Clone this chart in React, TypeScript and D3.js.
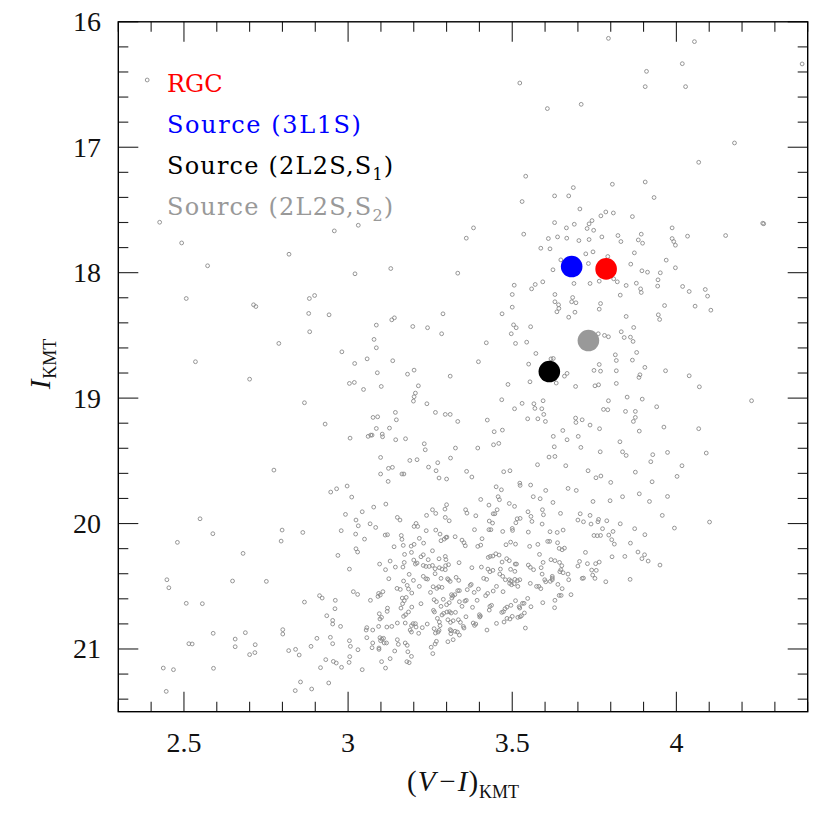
import React from "react";
import * as d3 from "d3";

// ---------- data (V-I, I) ----------
const starsNorthWest: [number, number][] = [
  [2.388,16.464],[2.426,17.598],[2.493,17.763],[2.958,17.667],
];
const starsNorth: [number, number][] = [
  [3.523,16.488],[3.607,16.692],[3.541,17.231],[3.530,17.433],[3.629,17.388],[3.672,17.388],[3.031,17.622],[3.382,17.643],[3.360,17.725],[3.535,17.693],[3.629,17.601],[3.665,17.643],[3.610,17.728],[3.638,17.715],[3.666,17.725],[3.587,17.805],[3.615,17.810],
];
const starsNorthEast: [number, number][] = [
  [3.793,16.132],[4.055,16.158],[4.018,16.334],[4.383,16.336],[3.909,16.395],[3.905,16.517],[4.028,16.517],[3.710,16.658],[4.177,16.966],[4.068,17.120],[3.686,17.322],[3.805,17.295],[3.905,17.277],[3.932,17.401],[3.706,17.492],[3.689,17.614],[3.785,17.516],[3.770,17.547],[3.808,17.524],[3.866,17.553],[3.743,17.585],[3.734,17.611],[3.728,17.648],[3.748,17.662],[3.703,17.744],[3.734,17.736],[3.773,17.715],[3.822,17.704],[3.831,17.752],[3.893,17.693],[3.884,17.739],[3.897,17.765],[3.987,17.643],[3.987,17.728],[3.992,17.752],[3.997,17.781],[4.034,17.709],[4.150,17.704],[4.263,17.606],[4.266,17.610],
];
const starsWest: [number, number][] = [
  [2.820,17.853],[2.572,17.945],[2.507,18.206],[2.712,18.256],[2.719,18.270],[2.882,18.206],[2.898,18.182],[2.880,18.325],[2.942,18.336],[2.883,18.471],[2.789,18.564],[2.535,18.710],[2.700,18.849],[2.867,19.037],[2.930,19.207],[2.774,19.574],
];
const starsCentre: [number, number][] = [
  [3.648,17.898],[3.021,18.009],[3.130,17.967],[3.334,18.004],[3.624,17.977],[3.593,18.073],[3.570,18.094],[3.559,18.129],[3.506,18.100],[3.500,18.174],[3.630,18.174],[3.630,18.232],[3.641,18.256],[3.642,18.285],[3.636,18.312],[3.672,18.355],[3.500,18.275],[3.469,18.328],[3.289,18.328],[3.133,18.376],[3.141,18.360],[3.086,18.418],[3.197,18.429],[3.242,18.439],[3.285,18.487],[3.504,18.416],[3.512,18.439],[3.556,18.431],[3.497,18.487],[3.510,18.564],[3.544,18.554],[3.421,18.559],[3.079,18.532],[3.086,18.599],[2.981,18.631],[3.058,18.687],[3.020,18.724],[3.136,18.702],[3.397,18.710],[3.572,18.644],[3.550,18.729],[3.618,18.687],[3.625,18.684],[3.089,18.798],[3.181,18.809],[3.201,18.777],[3.311,18.825],[3.004,18.883],[3.019,18.875],[3.047,18.931],[3.101,18.907],[3.214,18.902],[3.205,18.960],[3.201,18.989],[3.199,19.024],[3.487,18.891],[3.554,18.870],[3.634,18.880],[3.659,18.825],[3.667,18.803],[3.468,19.013],[3.530,19.042],[3.566,19.045],[3.569,19.082],[3.594,19.021],[3.590,19.085],[3.596,19.130],[3.507,19.085],[3.240,19.045],[3.266,19.114],[3.296,19.130],[3.311,19.130],[3.334,19.186],[3.424,19.175],[3.547,19.165],[3.578,19.165],[3.601,19.186],[3.144,19.114],[3.147,19.173],[3.076,19.154],[3.090,19.149],[3.086,19.242],[3.126,19.239],[3.006,19.319],[3.061,19.305],[3.069,19.295],[3.073,19.295],[3.104,19.287],[3.105,19.308],[3.145,19.332],[3.175,19.324],[3.445,19.268],[3.470,19.255],[3.443,19.372],[3.459,19.361],[3.625,19.305],[3.654,19.258],[3.667,19.332],[3.232,19.364],[3.235,19.412],[3.327,19.398],[3.395,19.398],[3.628,19.388],[3.612,19.470],[3.630,19.465],[3.099,19.473],[3.188,19.497],[3.210,19.491],[3.273,19.515],[3.312,19.478],[3.123,19.560],[3.135,19.552],[3.099,19.605],[3.164,19.605],[3.170,19.605],[3.245,19.550],[3.268,19.579],[3.277,19.637],[3.300,19.645],[3.361,19.584],[3.377,19.629],[3.474,19.587],[3.493,19.579],[3.577,19.531],[3.663,19.539],
];
const starsEast: [number, number][] = [
  [3.724,17.850],[3.746,17.834],[3.791,17.871],[3.872,17.842],[3.969,17.900],[3.997,17.961],[3.861,17.932],[3.895,17.985],[3.912,17.996],[3.951,18.001],[3.944,18.057],[3.943,18.107],[3.732,17.927],[3.688,18.086],[3.737,18.086],[3.765,18.068],[3.809,18.049],[3.820,18.073],[3.847,18.102],[3.878,18.084],[3.891,18.129],[3.893,18.158],[3.829,18.179],[4.019,18.110],[4.039,18.150],[4.088,18.134],[4.095,18.187],[4.057,18.267],[4.105,18.299],[3.964,18.262],[3.945,18.336],[3.949,18.373],[3.684,18.198],[3.681,18.232],[3.694,18.240],[3.691,18.315],[3.769,18.246],[3.765,18.291],[3.847,18.349],[3.870,18.437],[3.832,18.471],[3.841,18.517],[3.860,18.514],[3.868,18.548],[3.762,18.487],[3.781,18.500],[3.793,18.511],[3.879,18.636],[3.814,18.655],[3.817,18.700],[3.866,18.697],[3.765,18.732],[3.749,18.779],[3.769,18.785],[3.817,18.782],[3.904,18.755],[3.889,18.814],[3.886,18.835],[3.967,18.782],[4.039,18.822],[4.070,18.910],[3.693,18.907],[3.752,18.902],[3.763,18.894],[3.817,18.883],[4.229,19.021],[3.850,18.992],[3.896,19.008],[3.793,19.021],[3.940,19.069],[3.778,19.090],[3.791,19.093],[3.845,19.106],[3.875,19.106],[3.875,19.154],[3.869,19.186],[3.693,19.159],[3.694,19.194],[3.713,19.173],[3.737,19.215],[3.766,19.244],[3.887,19.263],[3.962,19.231],[4.068,19.244],[3.701,19.305],[3.828,19.348],[3.709,19.393],[3.768,19.428],[3.836,19.428],[3.847,19.457],[3.928,19.451],[3.973,19.433],[4.091,19.438],[3.922,19.507],[4.017,19.539],[3.731,19.579],[3.755,19.635],[3.770,19.621],[3.875,19.590],[4.002,19.624],
];
const starsSouthWest: [number, number][] = [
  [2.947,19.749],[2.965,19.723],[2.549,19.962],[2.588,20.081],[2.480,20.150],[2.799,20.052],[2.862,20.071],[2.796,20.140],[2.680,20.238],[2.969,20.254],[2.448,20.448],[2.454,20.512],[2.648,20.458],[2.751,20.461],[2.507,20.636],[2.556,20.639],[2.867,20.626],[2.913,20.575],[2.921,20.594],[2.961,20.612],[2.960,20.679],[2.935,20.735],[2.953,20.772],[2.953,20.801],[2.589,20.875],[2.515,20.958],[2.525,20.960],[2.656,20.921],[2.656,20.982],[2.687,20.870],[2.717,20.966],[2.716,21.029],[2.700,21.045],[2.801,20.846],[2.801,20.881],[2.819,21.013],[2.840,21.003],[2.851,21.048],[2.887,20.979],[2.905,20.915],[2.946,20.907],[2.953,20.958],[2.932,21.085],[2.916,21.149],[2.955,21.099],[2.964,21.112],[2.437,21.152],[2.468,21.165],[2.590,21.154],[2.446,21.338],[2.855,21.263],[2.839,21.332],[2.889,21.319],[2.941,21.271],
];
const starsSouthEast: [number, number][] = [
  [3.695,19.736],[3.800,19.672],[3.926,19.667],[3.836,19.786],[3.887,19.763],[3.973,19.784],[3.746,19.824],[3.798,19.818],[3.918,19.824],[3.957,19.935],[4.101,19.988],[3.707,19.922],[3.737,19.935],[3.700,19.972],[3.717,19.986],[3.740,20.004],[3.763,19.967],[3.761,19.986],[3.788,19.978],[3.775,20.041],[3.829,20.002],[3.807,20.063],[3.873,20.041],[3.904,20.089],[3.994,20.036],[3.749,20.095],[3.759,20.097],[3.769,20.095],[3.794,20.092],[3.803,20.129],[3.811,20.164],[3.860,20.156],[3.723,20.230],[3.804,20.265],[3.843,20.262],[3.883,20.227],[3.903,20.249],[3.895,20.280],[3.914,20.299],[3.950,20.331],[3.705,20.302],[3.700,20.339],[3.729,20.320],[3.754,20.320],[3.765,20.307],[3.742,20.371],[3.756,20.373],[3.745,20.411],[3.752,20.437],[3.713,20.437],[3.717,20.435],[3.785,20.464],[3.859,20.445],[3.679,20.567],
];
const starsSouthUpper: [number, number][] = [
  [2.997,19.701],[3.122,19.664],[3.011,19.789],[3.451,19.707],[3.467,19.731],[3.523,19.678],[3.524,19.696],[3.556,19.693],[3.602,19.736],[3.670,19.720],[3.457,19.786],[3.461,19.810],[3.564,19.786],[3.585,19.802],[3.624,19.832],[3.491,19.840],[3.507,19.863],[3.429,19.853],[3.404,19.808],[3.300,19.850],[3.295,19.885],[3.257,19.890],[3.267,19.919],[3.239,19.935],[3.358,19.890],[3.362,19.917],[3.389,19.938],[3.115,19.845],[3.078,19.869],[3.043,19.906],[2.992,19.927],
  [3.454,19.890],[3.442,19.922],[3.447,19.922],[3.430,19.980],[3.440,19.996],[3.592,19.890],[3.595,19.930],[3.548,19.906],[3.557,19.943],[3.560,19.983],[3.591,20.004],[3.647,19.919],[3.524,19.959],[3.515,19.962],[3.511,19.994],[3.150,19.951],[3.158,19.972],[3.024,19.972],[3.296,19.951],[3.308,19.978],[3.031,20.018],[3.067,20.002],[3.084,20.031],[2.979,20.057],[3.207,19.999],[3.201,20.023],[3.212,20.023],[3.238,20.057],[3.267,20.052],[3.280,20.084],[3.385,20.049],[3.429,20.049],[3.435,20.049],[3.471,20.063],[3.500,20.039],[3.501,20.055],[3.549,20.068],[3.615,20.065],[3.637,20.071],[3.655,20.052],[3.113,20.092],[3.120,20.089],[3.023,20.084],[3.050,20.124],[3.162,20.095],[3.164,20.126],[3.217,20.118],[3.230,20.156],[3.283,20.137],[3.293,20.124],[3.298,20.111],[3.301,20.108],[3.326,20.105],[3.347,20.132],[3.353,20.153],[3.357,20.177],[3.408,20.121],[3.395,20.182],[3.404,20.172],[3.481,20.169],[3.495,20.148],[3.510,20.164],[3.553,20.182],[3.578,20.166],[3.608,20.142],[3.614,20.142],[3.638,20.153],[3.643,20.198],[3.652,20.209],[3.659,20.196],[3.140,20.185],[3.168,20.174],[3.192,20.180],[3.201,20.166],[3.024,20.201],[3.029,20.227],[3.257,20.217],
];
const starsSouthMiddle: [number, number][] = [
  [3.172,20.246],[3.193,20.230],[3.222,20.265],[3.229,20.249],[3.244,20.288],[3.277,20.281],[3.296,20.262],[3.298,20.288],[3.200,20.291],[3.205,20.323],[3.210,20.315],[3.128,20.299],[3.096,20.323],[3.171,20.310],[3.338,20.312],[3.427,20.270],[3.433,20.262],[3.441,20.259],[3.450,20.241],[3.460,20.251],[3.469,20.307],[3.483,20.280],[3.491,20.296],[3.509,20.323],[3.513,20.323],[3.549,20.331],[3.555,20.349],[3.565,20.368],[3.583,20.246],[3.594,20.310],[3.618,20.288],[3.630,20.296],[3.644,20.310],[3.651,20.336],[3.648,20.368],[3.229,20.334],[3.237,20.342],[3.247,20.342],[3.257,20.334],[3.265,20.360],[3.278,20.352],[3.286,20.363],[3.297,20.336],[3.306,20.328],[3.296,20.368],[3.144,20.347],[3.167,20.347],[3.114,20.368],[3.004,20.363],[3.377,20.352],[3.406,20.347],[3.426,20.363],[3.432,20.384],[3.441,20.373],[3.464,20.363],[3.495,20.365],[3.508,20.381],[3.588,20.352],[3.591,20.403],[3.622,20.421],[3.622,20.435],[3.645,20.384],[3.655,20.392],[3.670,20.403],[3.186,20.405],[3.229,20.421],[3.242,20.443],[3.237,20.440],[3.199,20.453],[3.169,20.458],[3.124,20.440],[3.265,20.400],[3.283,20.437],[3.303,20.440],[3.306,20.448],[3.311,20.461],[3.329,20.429],[3.337,20.453],[3.413,20.437],[3.422,20.445],[3.462,20.403],[3.471,20.421],[3.479,20.448],[3.491,20.448],[3.496,20.458],[3.508,20.445],[3.516,20.456],[3.523,20.448],[3.555,20.477],[3.574,20.501],[3.581,20.501],[3.587,20.519],[3.599,20.448],[3.602,20.464],[3.616,20.461],[3.622,20.448],[3.639,20.485],[3.652,20.519],[3.649,20.573],[3.643,20.573],[3.672,20.448],
  [3.180,20.493],[3.184,20.522],[3.149,20.517],[3.159,20.525],[3.194,20.554],[3.217,20.501],[3.259,20.504],[3.270,20.517],[3.276,20.504],[3.286,20.509],[3.251,20.549],[3.315,20.567],[3.319,20.578],[3.325,20.567],[3.334,20.535],[3.339,20.535],[3.363,20.527],[3.372,20.493],[3.375,20.485],[3.384,20.549],[3.397,20.522],[3.419,20.575],[3.425,20.557],[3.442,20.538],[3.452,20.501],[3.472,20.543],[3.492,20.477],[3.498,20.488],[3.506,20.480],[3.517,20.501],[3.547,20.597],[3.557,20.663],[3.593,20.631],[3.630,20.612],[3.629,20.671],[3.093,20.557],[3.098,20.570],[3.091,20.581],[3.106,20.543],[3.016,20.543],[3.029,20.565],[3.068,20.612],[3.165,20.594],[3.177,20.589],[3.171,20.615],[3.166,20.639],[3.161,20.674],[3.194,20.666],[3.184,20.705],[3.222,20.639],[3.120,20.674],[3.119,20.700],[3.095,20.719],[3.102,20.748],[3.097,20.761],[3.262,20.607],[3.269,20.623],[3.283,20.660],[3.290,20.604],[3.300,20.647],[3.308,20.631],[3.316,20.594],[3.339,20.623],[3.347,20.660],[3.356,20.618],[3.360,20.612],[3.379,20.668],[3.393,20.612],[3.432,20.660],[3.437,20.652],[3.430,20.690],[3.473,20.703],[3.478,20.679],[3.484,20.666],[3.496,20.652],[3.510,20.615],[3.521,20.663],[3.523,20.674],[3.531,20.636],[3.536,20.636],[3.468,20.708],[3.260,20.692],[3.263,20.705],[3.286,20.729],[3.291,20.716],[3.301,20.705],[3.309,20.703],[3.314,20.713],[3.327,20.708],[3.400,20.727],[3.401,20.745],[3.403,20.737],
];
const starsSouthLower: [number, number][] = [
  [3.169,20.740],[3.175,20.727],[3.174,20.793],[3.150,20.793],[3.198,20.798],[3.205,20.798],[3.193,20.814],[3.207,20.825],[3.241,20.801],[3.226,20.830],[3.272,20.756],[3.278,20.785],[3.280,20.814],[3.304,20.767],[3.312,20.788],[3.320,20.775],[3.336,20.767],[3.342,20.788],[3.351,20.820],[3.353,20.833],[3.359,20.743],[3.381,20.793],[3.385,20.812],[3.389,20.801],[3.423,20.849],[3.452,20.796],[3.475,20.785],[3.484,20.756],[3.493,20.761],[3.500,20.740],[3.517,20.748],[3.524,20.743],[3.528,20.735],[3.537,20.713],[3.540,20.833],[3.262,20.838],[3.266,20.873],[3.274,20.865],[3.277,20.852],[3.311,20.846],[3.314,20.854],[3.313,20.878],[3.326,20.859],[3.333,20.865],[3.339,20.889],[3.320,20.926],[3.304,20.942],[3.269,20.939],[3.265,20.960],[3.253,20.986],[3.258,21.037],[3.215,20.875],[3.189,20.849],[3.193,20.865],[3.118,20.825],[3.133,20.820],[3.093,20.820],[3.057,20.830],[3.055,20.849],[3.075,20.849],[3.057,20.910],[3.075,20.952],[3.073,20.990],[3.097,20.910],[3.103,20.921],[3.108,20.915],[3.099,20.934],[3.110,20.952],[3.117,20.952],[3.094,20.992],[3.094,21.003],[3.150,20.926],[3.153,20.963],[3.174,20.952],[3.180,20.971],[3.142,21.016],[3.182,21.022],[3.193,21.059],[3.179,21.101],[3.186,21.109],[3.128,21.077],[3.102,21.101],[3.114,21.152],[3.030,21.006],[3.004,20.934],[3.007,20.979],[3.005,21.061],[3.003,21.107],[2.980,21.146],[3.043,21.165],[2.977,20.820],
];

const highlightNames = ["RGC", "Source (3L1S)", "Source (2L2S,S1)", "Source (2L2S,S2)"];
const highlightVI = [3.786, 3.681, 3.613, 3.732];
const highlightI = [17.970, 17.951, 18.788, 18.541];

const xMajorTicks = [2.5, 3, 3.5, 4];
const yMajorTicks = [16, 17, 18, 19, 20, 21];

// ---------- styles ----------
const highlightColors = ["#ff0000", "#0000ff", "#000000", "#999999"];
const W = 830, H = 819;
const L = 118.3, R = 807.7, T = 21.8, B = 711.7;
const numFont = "'Liberation Serif', 'Times New Roman', serif";
const legendFont = "'DejaVu Serif', serif";

export default function App() {
  const x = d3.scaleLinear().domain([2.3, 4.4]).range([L, R]);
  const y = d3.scaleLinear().domain([16, 21.5]).range([T, B]);

  const stars = [
    ...starsNorthWest, ...starsNorth, ...starsNorthEast, ...starsWest,
    ...starsCentre, ...starsEast, ...starsSouthWest, ...starsSouthEast,
    ...starsSouthUpper, ...starsSouthMiddle, ...starsSouthLower,
  ];

  const xMinor = d3.range(23, 45).map((v) => v / 10).filter((v) => !xMajorTicks.some((m) => Math.abs(m - v) < 1e-6));
  const yMinor = d3.range(80, 108).map((v) => v / 5).filter((v) => !yMajorTicks.some((m) => Math.abs(m - v) < 1e-6));

  const tickStroke = "#222";
  const tickW = 1.1;

  const legendY = [92, 133, 174, 215];
  const legendX = 167;

  return (
    <svg width={W} height={H} style={{ position: "absolute", left: 0, top: 0, background: "#fff" }}>
      <rect x={0} y={0} width={W} height={H} fill="#fff" />
      {/* ticks */}
      <g stroke={tickStroke} strokeWidth={tickW}>
        {xMajorTicks.map((v) => (
          <g key={"xM" + v}>
            <line x1={x(v)} x2={x(v)} y1={B} y2={B - 20} />
            <line x1={x(v)} x2={x(v)} y1={T} y2={T + 20} />
          </g>
        ))}
        {xMinor.map((v) => (
          <g key={"xm" + v}>
            <line x1={x(v)} x2={x(v)} y1={B} y2={B - 10} />
            <line x1={x(v)} x2={x(v)} y1={T} y2={T + 10} />
          </g>
        ))}
        {yMajorTicks.map((v) => (
          <g key={"yM" + v}>
            <line x1={L} x2={L + 20} y1={y(v)} y2={y(v)} />
            <line x1={R} x2={R - 20} y1={y(v)} y2={y(v)} />
          </g>
        ))}
        {yMinor.map((v) => (
          <g key={"ym" + v}>
            <line x1={L} x2={L + 10} y1={y(v)} y2={y(v)} />
            <line x1={R} x2={R - 10} y1={y(v)} y2={y(v)} />
          </g>
        ))}
      </g>
      <rect x={L} y={T} width={R - L} height={B - T} fill="none" stroke="#000" strokeWidth={1.4} />

      {/* tick labels */}
      <g fontFamily={numFont} fontSize={28} fill="#111">
        {xMajorTicks.map((v) => (
          <text key={"xl" + v} x={x(v)} y={752} textAnchor="middle">{String(v)}</text>
        ))}
        {yMajorTicks.map((v) => (
          <text key={"yl" + v} x={101} y={y(v) + 9.5} textAnchor="end">{String(v)}</text>
        ))}
      </g>

      {/* axis titles */}
      <text x={463} y={791} textAnchor="middle" fontFamily={numFont} fontSize={29} fill="#111">
        <tspan>(</tspan>
        <tspan fontStyle="italic" dx={1}>V</tspan>
        <tspan dx={4}>−</tspan>
        <tspan fontStyle="italic" dx={2}>I</tspan>
        <tspan dx={1}>)</tspan>
        <tspan fontSize={18} dy={7} dx={1}>KMT</tspan>
      </text>
      <text transform="translate(50,364) rotate(-90)" textAnchor="middle" fontFamily={numFont} fontSize={29} fill="#111">
        <tspan fontStyle="italic">I</tspan>
        <tspan fontSize={18} dy={6} dx={1}>KMT</tspan>
      </text>

      {/* legend */}
      <g fontFamily={legendFont} fontSize={24}>
        <text x={legendX} y={legendY[0]} fill={highlightColors[0]}>{highlightNames[0]}</text>
        <text x={legendX} y={legendY[1]} fill={highlightColors[1]} style={{ letterSpacing: "1.6px" }}>{highlightNames[1]}</text>
        {[2, 3].map((i) => {
          const name = highlightNames[i];
          const main = name.slice(0, name.length - 2);
          const sub = name.slice(name.length - 2, name.length - 1);
          return (
            <text key={"lg" + i} x={legendX} y={legendY[i]} fill={highlightColors[i]} style={{ letterSpacing: "1.2px" }}>
              <tspan>{main}</tspan>
              <tspan fontSize={16} dy={6}>{sub}</tspan>
              <tspan dy={-6}>)</tspan>
            </text>
          );
        })}
      </g>

      {/* field stars */}
      <g fill="none" stroke="#8a8a8a" strokeWidth={0.9}>
        {stars.map((d, i) => (
          <circle key={"s" + i} cx={x(d[0])} cy={y(d[1])} r={1.9} />
        ))}
      </g>

      {/* highlighted points */}
      {highlightVI.map((v, i) => (
        <circle key={"h" + i} cx={x(v)} cy={y(highlightI[i])} r={10.8} fill={highlightColors[i]} />
      ))}
    </svg>
  );
}
